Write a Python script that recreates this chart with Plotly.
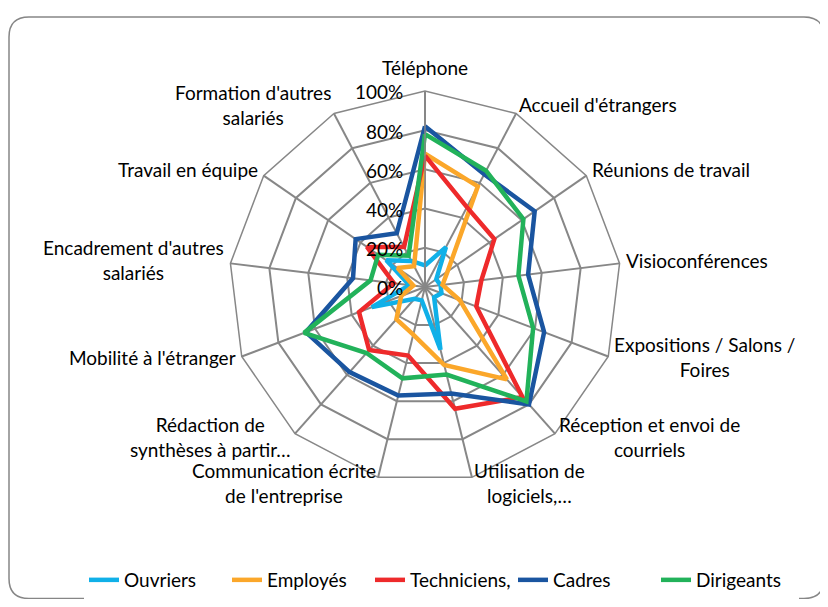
import math
import plotly.graph_objects as go

# categories (clockwise from the top) and their displayed labels
categories = ["Téléphone", "Accueil d'étrangers", "Réunions de travail", "Visioconférences",
              "Expositions / Salons / Foires", "Réception et envoi de courriels",
              "Utilisation de logiciels,…", "Communication écrite de l'entreprise",
              "Rédaction de synthèses à partir…", "Mobilité à l'étranger",
              "Encadrement d'autres salariés", "Travail en équipe", "Formation d'autres salariés"]
labels = ["Téléphone", "Accueil d'étrangers", "Réunions de travail", "Visioconférences",
          "Expositions / Salons /<br>Foires", "Réception et envoi de<br>courriels",
          "Utilisation de<br>logiciels,…", "Communication écrite<br>de l'entreprise",
          "Rédaction de<br>synthèses à partir…", "Mobilité à l'étranger",
          "Encadrement d'autres<br>salariés", "Travail en équipe", "Formation d'autres<br>salariés"]

# % of each group, same order as categories
ouvriers = [11, 23, 7, 8, 9, 7, 33, 7, 8, 29, 8, 24, 15]
employes = [68, 58, 14, 9, 19, 63, 41, 25, 22, 13, 6, 17, 12]
techniciens = [67, 46, 43, 29, 28, 75, 64, 36, 43, 36, 16, 36, 23]
cadres = [82, 65, 68, 53, 65, 80, 56, 57, 58, 65, 37, 43, 31]
dirigeants = [78, 67, 61, 48, 59, 78, 46, 48, 45, 66, 28, 29, 18]

radial_ticks = [0, 20, 40, 60, 80, 100]
radial_text = ["0%", "20%", "40%", "60%", "80%", "100%"]

series = [("Ouvriers", ouvriers, "#10B0E8"),
          ("Employés", employes, "#FBA72A"),
          ("Techniciens,", techniciens, "#EE2A2B"),
          ("Cadres", cadres, "#1A55A0"),
          ("Dirigeants", dirigeants, "#22B25A")]

# the page body has an 8px margin, so the figure is a bit smaller than the window
OFF = 8
W, H = 828 - 2 * OFF, 607 - 2 * OFF
cx, cy, R = 425 - OFF, 287 - OFF, 196     # chart centre in figure pixels
FONT = "Lato"
FS = 19
GRID = "#878787"


def px(x):
    return x / W


def py(y):
    return 1 - y / H


fig = go.Figure()
for name, vals, col in series:
    fig.add_trace(go.Scatterpolar(
        r=vals + vals[:1], theta=categories + categories[:1],
        mode="lines", name=name, line=dict(color=col, width=4.5)))

# category labels outside the outer polygon, Excel style (lines centred)
annotations = []
n = len(labels)
for i, lab in enumerate(labels):
    a = 2 * math.pi * i / n
    s, c = math.sin(a), math.cos(a)
    vx, vy = cx + R * s, cy - R * c
    if abs(s) < 0.1:
        xa, ax, ay, ya = "center", vx, vy - 10, "bottom"
    else:
        gap = -1.5 + 6 * abs(s)
        xa = "left" if s > 0 else "right"
        ax = vx + gap * (1 if s > 0 else -1)
        ay = vy - 7.5 * c - 2
        ya = "middle"
    annotations.append(dict(text=lab, x=px(ax), y=py(ay), xref="paper", yref="paper",
                            xanchor=xa, yanchor=ya, align="center", showarrow=False,
                            font=dict(size=FS, family=FONT, color="#000000")))

# radial tick labels, horizontal, left of the vertical axis
for v, t in zip(radial_ticks, radial_text):
    annotations.append(dict(text=t, x=px(cx - 20), y=py(cy - R * v / 100 + 1),
                            xref="paper", yref="paper", xanchor="right", yanchor="middle",
                            showarrow=False, font=dict(size=FS, family=FONT, color="#000000")))

# rounded frame around the chart
x0, x1 = px(9 - OFF), px(824 - OFF)
y0, y1 = py(H - 0.5), py(17 - OFF)
rx, ry = 20 / W, 20 / H
frame = (f"M{x0 + rx},{y1} L{x1 - rx},{y1} Q{x1},{y1} {x1},{y1 - ry} "
         f"L{x1},{y0 + ry} Q{x1},{y0} {x1 - rx},{y0} L{x0 + rx},{y0} "
         f"Q{x0},{y0} {x0},{y0 + ry} L{x0},{y1 - ry} Q{x0},{y1} {x0 + rx},{y1} Z")

fig.update_layout(
    width=W, height=H,
    margin=dict(l=0, r=0, t=0, b=0),
    paper_bgcolor="white",
    font=dict(family=FONT, size=FS, color="#000000"),
    annotations=annotations,
    shapes=[dict(type="path", path=frame, xref="paper", yref="paper",
                 line=dict(color="#868686", width=1.5))],
    polar=dict(
        domain=dict(x=[(cx - R) / W, (cx + R) / W],
                    y=[(H - cy - R) / H, (H - cy + R) / H]),
        bgcolor="white",
        gridshape="linear",
        angularaxis=dict(direction="clockwise", rotation=90,
                         showticklabels=False,
                         showline=True, linecolor=GRID, linewidth=1.5,
                         gridcolor=GRID, gridwidth=1.5, ticks=""),
        radialaxis=dict(range=[0, 100], tickvals=radial_ticks, showticklabels=False,
                        angle=90, showline=True, linecolor=GRID, linewidth=1.5,
                        gridcolor=GRID, gridwidth=1.5, ticks=""),
    ),
    legend=dict(orientation="h", x=px(84 - OFF), xanchor="left",
                y=py(580 - OFF), yanchor="middle",
                font=dict(size=FS), traceorder="normal",
                entrywidth=98, entrywidthmode="pixels"),
)

fig.write_html("out.html")
